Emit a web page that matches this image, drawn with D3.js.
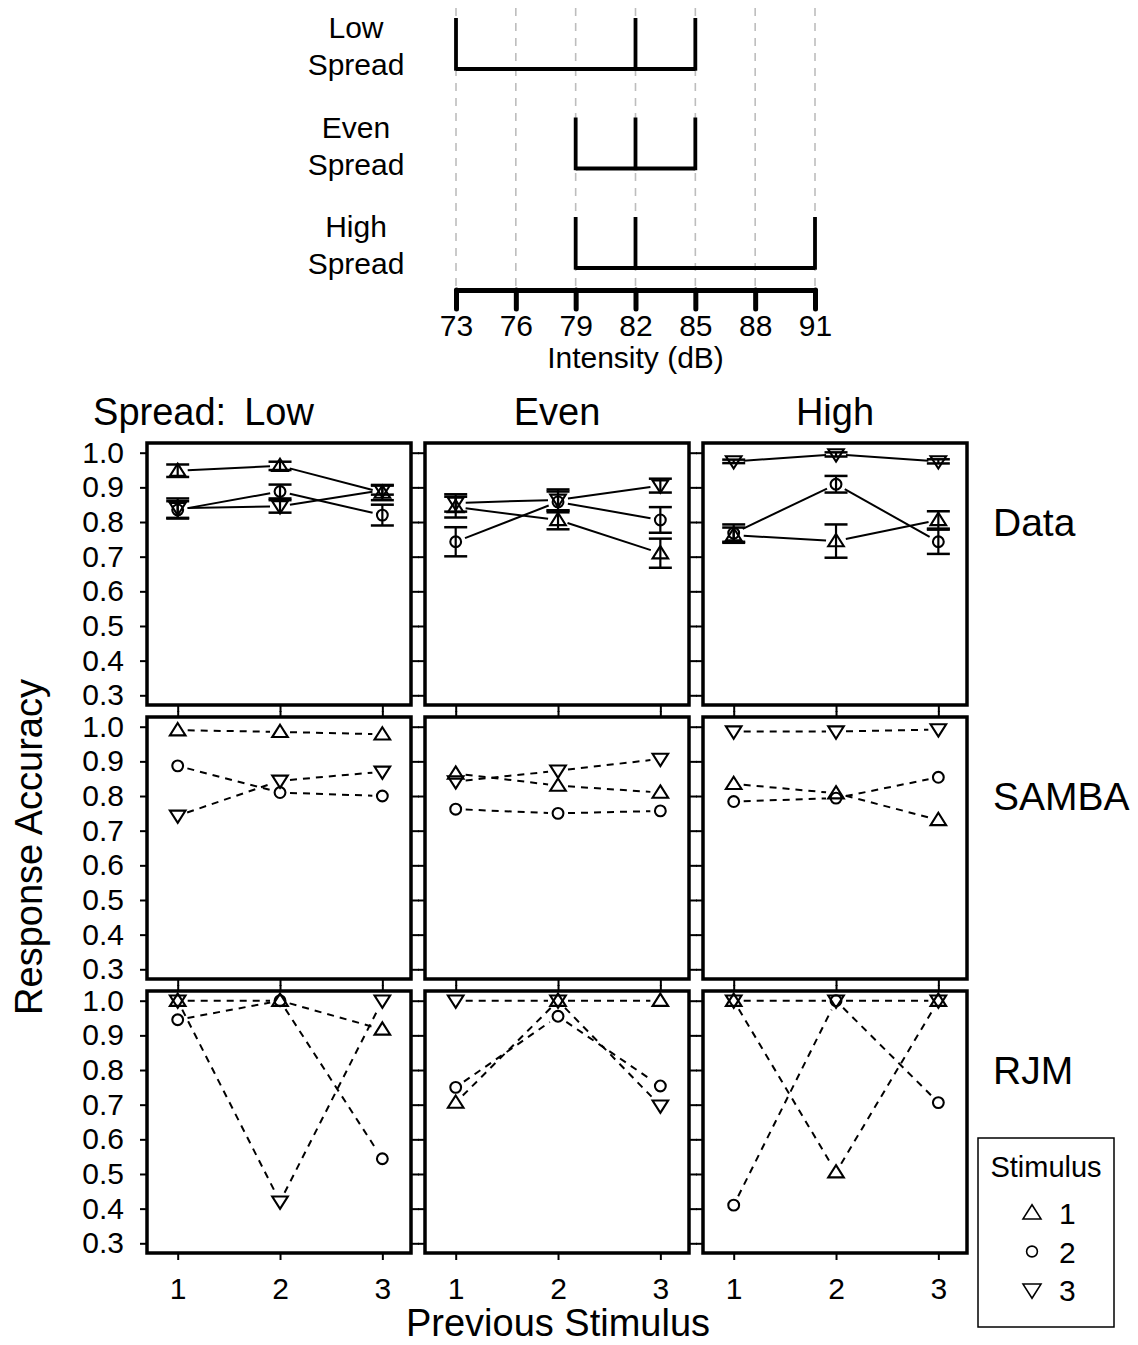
<!DOCTYPE html>
<html>
<head>
<meta charset="utf-8">
<script src="https://cdn.jsdelivr.net/npm/d3@7"></script>
<style>
body{margin:0;background:#fff;}
text{font-family:"Liberation Sans",Arial,Helvetica,sans-serif;fill:#000;}
</style>
</head>
<body>
<div id="chart"></div>
<script>
// 0- Data -------------------------------------------------------------------------------------
const spreads=["Low","Even","High"];
const models=["Data","SAMBA","RJM"];
const stimuli=[1,2,3];
const yTicks=[0.3,0.4,0.5,0.6,0.7,0.8,0.9,1.0];

// intensity diagram
const dbTicks=[73,76,79,82,85,88,91];
const lowSpreadDb=[73,82,85];
const evenSpreadDb=[79,82,85];
const highSpreadDb=[79,82,91];

// accuracy: one row per stimulus (1,2,3), one column per previous stimulus (1,2,3)
const dataLow=[[0.948,0.962,0.885],[0.835,0.888,0.820],[0.840,0.845,0.892]];
const dataLowSE=[[0.018,0.012,0.022],[0.025,0.020,0.030],[0.028,0.018,0.013]];
const dataEven=[[0.843,0.806,0.710],[0.743,0.858,0.806],[0.855,0.864,0.905]];
const dataEvenSE=[[0.030,0.027,0.042],[0.042,0.030,0.037],[0.025,0.030,0.020]];
const dataHigh=[[0.762,0.745,0.806],[0.768,0.909,0.743],[0.975,0.995,0.975]];
const dataHighSE=[[0.022,0.048,0.025],[0.025,0.024,0.035],[0.005,0.006,0.006]];

const sambaLow=[[0.990,0.985,0.978],[0.887,0.810,0.800],[0.743,0.844,0.870]];
const sambaEven=[[0.865,0.830,0.810],[0.762,0.750,0.757],[0.842,0.873,0.907]];
const sambaHigh=[[0.835,0.808,0.731],[0.784,0.794,0.854],[0.986,0.986,0.992]];

const rjmLow=[[1.0,1.0,0.917],[0.945,1.0,0.544],[1.0,0.42,1.0]];
const rjmEven=[[0.706,1.0,1.0],[0.750,0.955,0.754],[1.0,1.0,0.697]];
const rjmHigh=[[1.0,0.505,1.0],[0.41,1.0,0.706],[1.0,1.0,1.0]];

const panelValues=[
    [dataLow,dataEven,dataHigh],
    [sambaLow,sambaEven,sambaHigh],
    [rjmLow,rjmEven,rjmHigh]
];
const panelErrors=[[dataLowSE,dataEvenSE,dataHighSE],null,null];

// 1- SVG ---------------------------------------------------------------------------------------
const svgWidth=1138;
const svgHeight=1345;
const svg=d3.select("#chart").append("svg")
    .attr("width",svgWidth)
    .attr("height",svgHeight);
svg.append("rect").attr("width",svgWidth).attr("height",svgHeight).attr("fill","#fff");

// 2- Intensity diagram -------------------------------------------------------------------------
const dbScale=d3.scaleLinear().domain([73,91]).range([456,815]);
const rowScale=d3.scaleLinear().domain([0,2]).range([69,268]);
const barHeight=51;
const axisY=290;
const spreadRows=[lowSpreadDb,evenSpreadDb,highSpreadDb];

const diagram=svg.append("g");

diagram.selectAll("line.grid")
    .data(dbTicks)
    .enter()
    .append("line")
    .attr("x1",d=>dbScale(d))
    .attr("x2",d=>dbScale(d))
    .attr("y1",8)
    .attr("y2",axisY)
    .attr("stroke","#bdbdbd")
    .attr("stroke-width",1.6)
    .attr("stroke-dasharray","8,7");

spreadRows.forEach((row,i)=>{
    const yb=rowScale(i);
    const g=diagram.append("g");
    g.append("line")
        .attr("x1",dbScale(d3.min(row)))
        .attr("x2",dbScale(d3.max(row)))
        .attr("y1",yb).attr("y2",yb)
        .attr("stroke","#000").attr("stroke-width",3.8);
    g.selectAll("line.v").data(row).enter().append("line")
        .attr("x1",d=>dbScale(d)).attr("x2",d=>dbScale(d))
        .attr("y1",yb-barHeight).attr("y2",yb+1.7)
        .attr("stroke","#000").attr("stroke-width",3.8);
    const label=g.append("text")
        .attr("x",356)
        .attr("text-anchor","middle")
        .attr("font-size","30px");
    label.append("tspan").attr("x",356).attr("y",yb-31).text(spreads[i]);
    label.append("tspan").attr("x",356).attr("y",yb+6).text("Spread");
});

const dbAxis=diagram.append("g")
    .attr("transform",`translate(0,${axisY})`)
    .call(d3.axisBottom(dbScale).tickValues(dbTicks).tickSize(19).tickSizeOuter(0).tickPadding(6));
dbAxis.select(".domain").attr("stroke-width",5).attr("stroke-linecap","round");
dbAxis.selectAll(".tick line").attr("stroke-width",5).attr("stroke-linecap","round");
dbAxis.selectAll(".tick text").attr("font-size","30px").attr("font-family",null);

diagram.append("text")
    .attr("x",dbScale(82))
    .attr("y",368)
    .attr("text-anchor","middle")
    .attr("font-size","30px")
    .text("Intensity (dB)");

// 3- Panels ------------------------------------------------------------------------------------
const panelLeft=147, panelTop=443;
const panelW=264, panelH=262;
const stepX=278, stepY=274;

const xScale=d3.scaleLinear().domain([0.7,3.28]).range([0,panelW]);
const yScale=d3.scaleLinear().domain([0.272,1.028]).range([panelH,0]);

const gap=10;
function gappedSegments(points){
    const segs=[];
    for(let i=0;i<points.length-1;i++){
        const [x0,y0]=points[i], [x1,y1]=points[i+1];
        const dx=x1-x0, dy=y1-y0, len=Math.sqrt(dx*dx+dy*dy);
        if(len<=2*gap) continue;
        const ux=dx/len, uy=dy/len;
        segs.push([x0+ux*gap,y0+uy*gap,x1-ux*gap,y1-uy*gap]);
    }
    return segs;
}

function symbolPath(stim,k){
    k=k||1;
    const a=7.8*k, h=12.3*k;
    if(stim===1) return `M0,${-h*0.58}L${a},${h*0.42}L${-a},${h*0.42}Z`;
    if(stim===3) return `M0,${h*0.58}L${a},${-h*0.42}L${-a},${-h*0.42}Z`;
    const r=5.4;
    return `M${r},0A${r},${r} 0 1,1 ${-r},0A${r},${r} 0 1,1 ${r},0Z`;
}

models.forEach((model,row)=>{
    spreads.forEach((spread,col)=>{
        const g=svg.append("g")
            .attr("transform",`translate(${panelLeft+col*stepX},${panelTop+row*stepY})`);

        // ticks
        const yAx=g.append("g")
            .call(d3.axisLeft(yScale).tickValues(yTicks).tickSize(7).tickPadding(16)
                .tickFormat(col===0?d3.format(".1f"):""));
        const xAx=g.append("g")
            .attr("transform",`translate(0,${panelH})`)
            .call(d3.axisBottom(xScale).tickValues(stimuli).tickSize(7).tickPadding(18)
                .tickFormat(row===2?d3.format("d"):""));
        const axes=[yAx,xAx];
        if(row>0){
            axes.push(g.append("g").call(d3.axisTop(xScale).tickValues(stimuli).tickSize(6).tickFormat("")));
        }
        if(col<2){
            axes.push(g.append("g").attr("transform",`translate(${panelW},0)`)
                .call(d3.axisRight(yScale).tickValues(yTicks).tickSize(8).tickFormat("")));
        }
        axes.forEach(ax=>{
            ax.select(".domain").remove();
            ax.selectAll(".tick line").attr("stroke-width",2);
            ax.selectAll(".tick text").attr("font-size","30px").attr("font-family",null);
        });

        const values=panelValues[row][col];
        const errors=panelErrors[row]?panelErrors[row][col]:null;

        // error bars
        if(errors){
            values.forEach((series,s)=>{
                series.forEach((v,j)=>{
                    const cx=xScale(stimuli[j]);
                    const e=errors[s][j];
                    const eg=g.append("g").attr("stroke","#000");
                    eg.append("line").attr("x1",cx).attr("x2",cx)
                        .attr("y1",yScale(v-e)).attr("y2",yScale(v+e)).attr("stroke-width",2.2);
                    [v-e,v+e].forEach(b=>{
                        eg.append("line").attr("x1",cx-11.5).attr("x2",cx+11.5)
                            .attr("y1",yScale(b)).attr("y2",yScale(b)).attr("stroke-width",2.5);
                    });
                });
            });
        }

        // lines with gaps (type "b")
        values.forEach(series=>{
            const pts=series.map((v,j)=>[xScale(stimuli[j]),yScale(v)]);
            g.selectAll(null)
                .data(gappedSegments(pts))
                .enter()
                .append("line")
                .attr("x1",d=>d[0]).attr("y1",d=>d[1])
                .attr("x2",d=>d[2]).attr("y2",d=>d[3])
                .attr("stroke","#000")
                .attr("stroke-width",2)
                .attr("stroke-dasharray",row===0?null:"7,6");
        });

        // symbols
        values.forEach((series,s)=>{
            g.selectAll(null)
                .data(series)
                .enter()
                .append("path")
                .attr("transform",(v,j)=>`translate(${xScale(stimuli[j])},${yScale(v)})`)
                .attr("d",symbolPath(stimuli[s]))
                .attr("fill","none")
                .attr("stroke","#000")
                .attr("stroke-width",2.1);
        });

        // border
        g.append("rect")
            .attr("width",panelW)
            .attr("height",panelH)
            .attr("fill","none")
            .attr("stroke","#000")
            .attr("stroke-width",3.5);
    });
});

// 4- Strip and row labels ----------------------------------------------------------------------
spreads.forEach((spread,col)=>{
    const cx=panelLeft+col*stepX+panelW/2;
    const t=svg.append("text")
        .attr("x",cx)
        .attr("y",425)
        .attr("text-anchor","middle")
        .attr("font-size","38px")
        .text(spread);
    if(col===0){
        const w=t.node().getComputedTextLength();
        svg.append("text")
            .attr("x",cx-w/2-18)
            .attr("y",425)
            .attr("text-anchor","end")
            .attr("font-size","38px")
            .text("Spread:");
    }
});

models.forEach((model,row)=>{
    svg.append("text")
        .attr("x",993)
        .attr("y",panelTop+row*stepY+93)
        .attr("font-size","39px")
        .text(model);
});

svg.append("text")
    .attr("transform","translate(42,847) rotate(-90)")
    .attr("text-anchor","middle")
    .attr("font-size","38px")
    .text("Response Accuracy");

svg.append("text")
    .attr("x",558)
    .attr("y",1336)
    .attr("text-anchor","middle")
    .attr("font-size","38px")
    .text("Previous Stimulus");

// 5- Legend ------------------------------------------------------------------------------------
const legend=svg.append("g");
legend.append("rect")
    .attr("x",978).attr("y",1138)
    .attr("width",136).attr("height",189)
    .attr("fill","#fff").attr("stroke","#000").attr("stroke-width",1.5);
legend.append("text")
    .attr("x",1046).attr("y",1177)
    .attr("text-anchor","middle")
    .attr("font-size","29px")
    .text("Stimulus");
const legendY=d3.scaleLinear().domain([1,3]).range([1213,1290]);
stimuli.forEach(s=>{
    legend.append("path")
        .attr("transform",`translate(1032,${legendY(s)})`)
        .attr("d",symbolPath(s,1.15))
        .attr("fill","none").attr("stroke","#000").attr("stroke-width",1.6);
    legend.append("text")
        .attr("x",1059).attr("y",legendY(s)+11)
        .attr("font-size","30px")
        .text(s);
});
</script>
</body>
</html>
